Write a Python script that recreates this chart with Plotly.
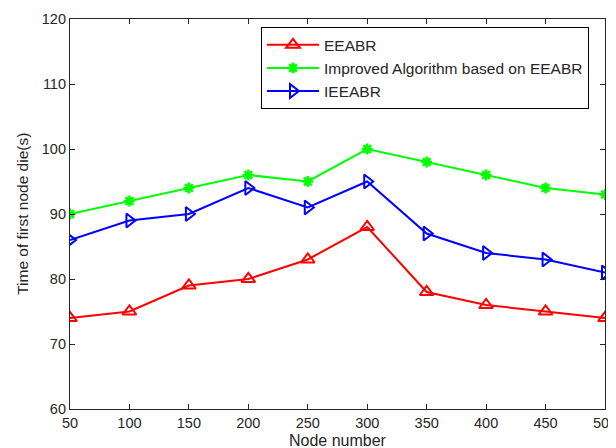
import plotly.graph_objects as go

nodes = [50, 100, 150, 200, 250, 300, 350, 400, 450, 500]
eeabr = [74, 75, 79, 80, 83, 88, 78, 76, 75, 74]
improved = [90, 92, 94, 96, 95, 100, 98, 96, 94, 93]
ieeabr = [86, 89, 90, 94, 91, 95, 87, 84, 83, 81]
yticks = [60, 70, 80, 90, 100, 110, 120]

names = ["EEABR", "Improved Algorithm based on EEABR", "IEEABR"]
FONT = "Liberation Sans"
TXT = "#262626"

fig = go.Figure()
fig.add_trace(go.Scatter(x=nodes, y=eeabr, name=names[0], mode="lines+markers",
                         line=dict(color="#ff0000", width=2),
                         marker=dict(symbol="triangle-up-open", size=12, color="#ff0000",
                                     line=dict(width=2, color="#ff0000"))))
fig.add_trace(go.Scatter(x=nodes, y=improved, name=names[1], mode="lines+markers",
                         line=dict(color="#00ff00", width=2),
                         marker=dict(symbol="asterisk-open", size=9, color="#00ff00",
                                     line=dict(width=2.5, color="#00ff00"))))
fig.add_trace(go.Scatter(x=nodes, y=ieeabr, name=names[2], mode="lines+markers",
                         line=dict(color="#0000ff", width=2),
                         marker=dict(symbol="triangle-right-open", size=12, color="#0000ff",
                                     line=dict(width=2, color="#0000ff"))))

axis_common = dict(showgrid=False, zeroline=False, showline=True, linecolor=TXT,
                   linewidth=1.2, mirror="ticks", ticks="inside", ticklen=5,
                   tickcolor=TXT, automargin=False, ticklabeloverflow="allow",
                   tickfont=dict(family=FONT, size=14.5, color=TXT))

fig.update_xaxes(range=[50, 500], tickvals=nodes, ticklabelstandoff=0, **axis_common)
fig.update_yaxes(range=[60, 120], tickvals=yticks, **axis_common)

fig.add_annotation(text="Node number", xref="paper", yref="paper", x=0.5, y=-0.082,
                   xanchor="center", yanchor="middle", showarrow=False,
                   font=dict(family=FONT, size=16, color=TXT))
fig.add_annotation(text="Time of first node die(s)", xref="paper", yref="paper", x=-0.09, y=0.5,
                   xanchor="center", yanchor="middle", textangle=-90, showarrow=False,
                   font=dict(family=FONT, size=15.5, color=TXT))

fig.update_layout(
    width=608, height=440,
    margin=dict(l=62, r=11, t=11, b=39),
    plot_bgcolor="white", paper_bgcolor="white",
    legend=dict(x=0.357, y=0.979, xanchor="left", yanchor="top",
                bordercolor="#000000", borderwidth=1, bgcolor="white",
                font=dict(family=FONT, size=15.5, color=TXT),
                tracegroupgap=0, itemwidth=52),
    showlegend=True,
)

fig.write_html("out.html")
